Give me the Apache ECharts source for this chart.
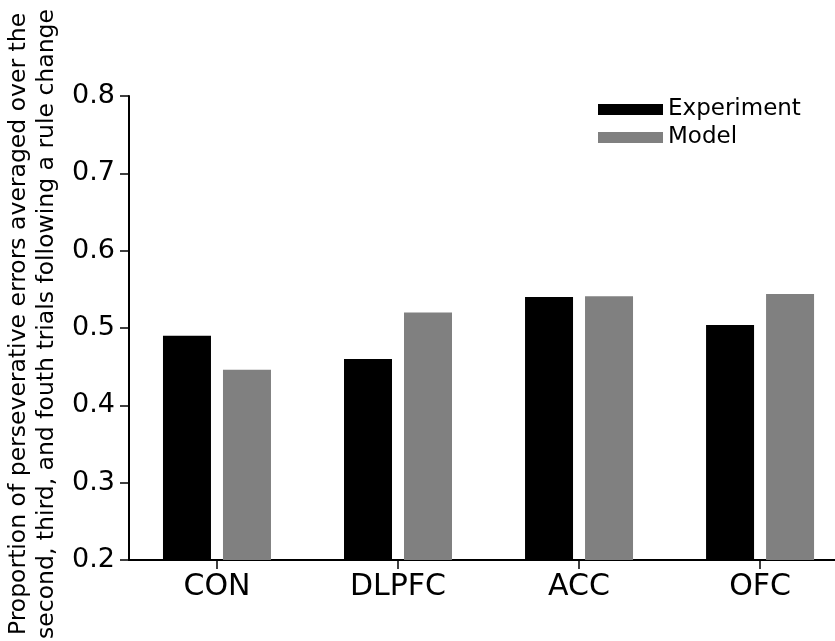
<!DOCTYPE html>
<html>
<head>
<meta charset="utf-8">
<script src="https://cdn.jsdelivr.net/npm/echarts@6/dist/echarts.min.js"></script>
<style>
  html, body { margin: 0; padding: 0; background: #fff; }
  #chart { width: 835px; height: 641px; }
</style>
</head>
<body>
<div id="chart"></div>
<script>
// 类别与数值
const regions = ['CON', 'DLPFC', 'ACC', 'OFC'];
const experiment = [0.490, 0.460, 0.540, 0.504];
const model = [0.446, 0.520, 0.541, 0.544];

const font = 'DejaVu Sans';
const chart = echarts.init(document.getElementById('chart'));

chart.setOption({
  animation: false,
  textStyle: { fontFamily: font, color: '#000' },
  grid: { left: 129, right: 0, top: 96, bottom: 81, containLabel: false, outerBoundsMode: 'none' },
  legend: {
    orient: 'vertical',
    left: 593,
    top: 93,
    itemWidth: 65,
    itemHeight: 11,
    itemGap: 5,
    textStyle: { fontFamily: font, fontSize: 23, color: '#000' },
    data: [
      { name: 'Experiment', icon: 'rect' },
      { name: 'Model', icon: 'rect' }
    ]
  },
  xAxis: {
    type: 'value',
    min: -0.486,
    max: 3.414,
    splitLine: { show: false },
    axisLine: { onZero: false, lineStyle: { color: '#000', width: 2 } },
    axisTick: {
      customValues: [0, 1, 2, 3],
      length: 9,
      lineStyle: { color: '#000', width: 1.5 }
    },
    axisLabel: {
      customValues: [0, 1, 2, 3],
      formatter: v => regions[Math.round(v)],
      fontSize: 30,
      color: '#000',
      margin: 12
    }
  },
  yAxis: {
    type: 'value',
    min: 0.2,
    max: 0.8,
    interval: 0.1,
    name: 'Proportion of perseverative errors averaged over the\nsecond, third, and fouth trials following a rule change',
    nameLocation: 'middle',
    nameGap: 64,
    nameTextStyle: { fontFamily: font, fontSize: 23.5, color: '#000', lineHeight: 28, padding: [0, 0, 0, 8] },
    splitLine: { show: false },
    axisLine: { show: true, onZero: false, lineStyle: { color: '#000', width: 2 } },
    axisTick: { show: true, length: 9, lineStyle: { color: '#000', width: 1.5 } },
    axisLabel: {
      formatter: v => v.toFixed(1),
      fontSize: 27,
      color: '#000',
      margin: 14
    }
  },
  series: [
    {
      name: 'Experiment',
      type: 'bar',
      data: experiment.map((v, i) => [i, v]),
      barWidth: 48,
      barGap: '25%',
      itemStyle: { color: '#000' }
    },
    {
      name: 'Model',
      type: 'bar',
      data: model.map((v, i) => [i, v]),
      barWidth: 48,
      itemStyle: { color: '#808080' }
    }
  ]
});
</script>
</body>
</html>
